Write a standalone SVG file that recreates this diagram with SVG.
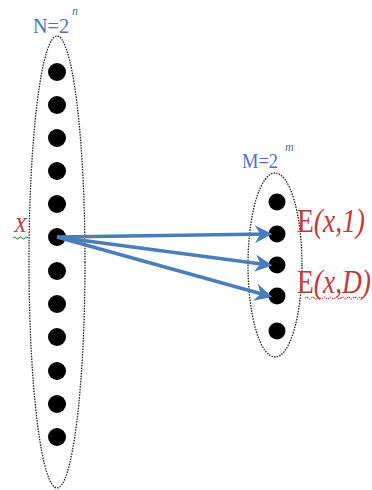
<svg xmlns="http://www.w3.org/2000/svg" width="372" height="490" viewBox="0 0 372 490">
<style>
.ell{fill:none;stroke:#222;stroke-width:1.3;stroke-dasharray:1.5 1.2}
.dot{fill:#000}
.lab{font-family:"Liberation Serif","Times New Roman",serif;fill:#4f72b8}
.red{font-family:"Liberation Serif","Times New Roman",serif;fill:#c0393b}
.arr{stroke:#4a7ebb;stroke-width:3.5;fill:none;marker-end:url(#ah)}
.wavy{fill:none;stroke-width:1.2}
</style>
<defs>
<marker id="ah" viewBox="0 0 10 10" refX="8" refY="5" markerWidth="5" markerHeight="5" orient="auto" markerUnits="strokeWidth">
<path d="M0,0 L10,5 L0,10 L3,5 Z" fill="#4a7ebb"/>
</marker>
</defs>
<rect width="372" height="490" fill="#fff"/>
<g id="left-set">
<ellipse class="ell" cx="57" cy="262" rx="28" ry="226"/>
<circle class="dot" cx="57" cy="72" r="9"/>
<circle class="dot" cx="57" cy="105" r="9"/>
<circle class="dot" cx="57" cy="138" r="9"/>
<circle class="dot" cx="57" cy="171" r="9"/>
<circle class="dot" cx="57" cy="204" r="9"/>
<circle class="dot" cx="57" cy="237" r="9"/>
<circle class="dot" cx="57" cy="271" r="9"/>
<circle class="dot" cx="57" cy="304" r="9"/>
<circle class="dot" cx="57" cy="337" r="9"/>
<circle class="dot" cx="57" cy="371" r="9"/>
<circle class="dot" cx="57" cy="404" r="9"/>
<circle class="dot" cx="57" cy="437" r="9"/>
<text class="lab" x="33" y="33" font-size="20" textLength="36" lengthAdjust="spacingAndGlyphs">N=2</text>
<text class="lab" x="72" y="15" font-size="12" font-style="italic">n</text>
<text class="red" x="14" y="232" font-size="21" font-style="italic">X</text>
<path class="wavy" stroke="#3a9a3a" d="M13,238 q1.5,-2 3,0 t3,0 t3,0 t3,0 t3,0"/>
</g>
<g id="right-set">
<ellipse class="ell" cx="275" cy="265" rx="27" ry="92"/>
<circle class="dot" cx="277" cy="202" r="8.5"/>
<circle class="dot" cx="277" cy="234" r="8.5"/>
<circle class="dot" cx="277" cy="265" r="8.5"/>
<circle class="dot" cx="277" cy="296" r="8.5"/>
<circle class="dot" cx="277" cy="331" r="8.5"/>
<text class="lab" x="242" y="168" font-size="20" textLength="36" lengthAdjust="spacingAndGlyphs">M=2</text>
<text class="lab" x="285" y="151" font-size="12" font-style="italic">m</text>
<text class="red" transform="translate(297,232) scale(1,1.2)" font-size="27.5">E<tspan font-style="italic">(x,1)</tspan></text>
<text class="red" transform="translate(297,293) scale(1,1.2)" font-size="27.5">E<tspan font-style="italic">(x,D)</tspan></text>
<path class="wavy" stroke="#c0393b" stroke-dasharray="1.5 1" d="M305,298 q1.5,-2 3,0 t3,0 t3,0 t3,0 t3,0 t3,0 t3,0 t3,0 t3,0 t3,0 t3,0 t3,0 t3,0 t3,0 t3,0 t3,0 t3,0 t3,0 t3,0"/>
</g>
<g id="connectors">
<path class="arr" d="M57,237 L269,234"/>
<path class="arr" d="M57,237 L269,265"/>
<path class="arr" d="M57,237 L269,296"/>
</g>
</svg>
